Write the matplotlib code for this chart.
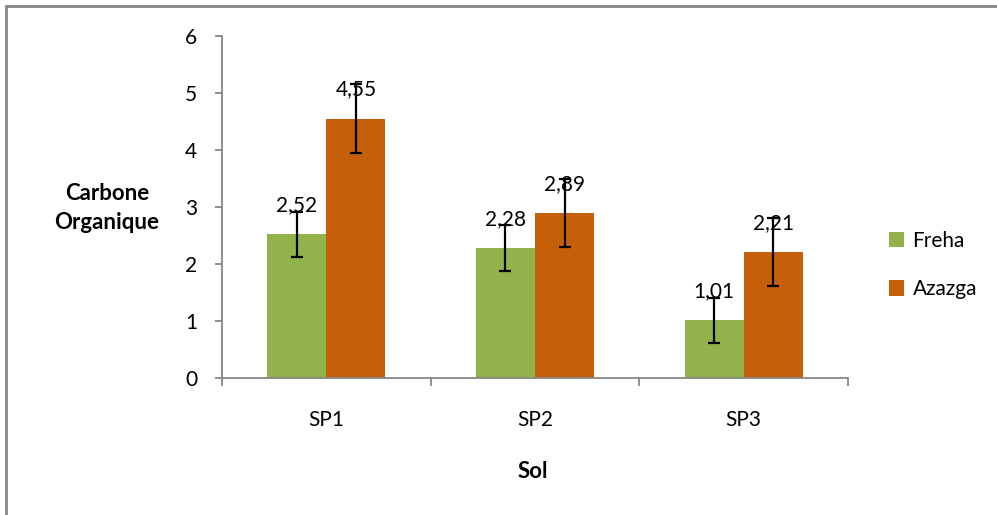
import matplotlib.pyplot as plt
import numpy as np
from matplotlib.patches import Rectangle

# data
categories = ['SP1', 'SP2', 'SP3']
freha = [2.52, 2.28, 1.01]
azazga = [4.55, 2.89, 2.21]
freha_err = [0.4, 0.4, 0.4]
azazga_err = [0.6, 0.6, 0.6]
series_names = ['Freha', 'Azazga']

plt.rcParams['font.family'] = ['Lato', 'DejaVu Sans']
green = '#92B24C'
orange = '#C65F0A'
grey = '#868686'
fs = 15

fig = plt.figure(figsize=(9.97, 5.15), dpi=100)
ax = fig.add_axes([222/997, 1 - 378/515, (848-222)/997, (378-36)/515])

# outer chart frame (runs off the right/bottom edge like the original)
fig.patches.append(Rectangle((6/997, -0.1), 1.1, 1 - 6/515 + 0.1, transform=fig.transFigure,
                             fill=False, edgecolor=grey, linewidth=2))

x = np.arange(len(categories))
w = 0.283
ax.bar(x - w/2, freha, w, color=green, label=series_names[0], zorder=2)
ax.bar(x + w/2, azazga, w, color=orange, label=series_names[1], zorder=2)
ax.errorbar(x - w/2, freha, yerr=freha_err, fmt='none', ecolor='black',
            elinewidth=1.6, capsize=4.5, capthick=1.6, zorder=3)
ax.errorbar(x + w/2, azazga, yerr=azazga_err, fmt='none', ecolor='black',
            elinewidth=1.6, capsize=4.5, capthick=1.6, zorder=3)

for xs, vals in [(x - w/2, freha), (x + w/2, azazga)]:
    for xi, v in zip(xs, vals):
        ax.annotate(f'{v:.2f}'.replace('.', ','), (xi, v), xytext=(0, 21),
                    textcoords='offset points', ha='center', va='center',
                    fontsize=fs, zorder=1)

ax.set_xlim(-0.5, 2.5)
ax.set_ylim(0, 6)
ax.set_yticks(range(0, 7))
ax.set_xticks(x)
ax.set_xticklabels(categories, fontsize=fs)
ax.tick_params(axis='x', length=0, pad=23)
ax.tick_params(axis='y', labelsize=fs, length=5, color=grey, width=1.3, pad=13)
ax.set_xticks([-0.5, 0.5, 1.5, 2.5], minor=True)
ax.tick_params(axis='x', which='minor', length=6, color=grey, width=1.3)

for s in ['top', 'right']:
    ax.spines[s].set_visible(False)
for s in ['left', 'bottom']:
    ax.spines[s].set_color(grey)
    ax.spines[s].set_linewidth(1.3)

fig.text(107/997, 1 - 208/515, 'Carbone\nOrganique', ha='center', va='center',
         fontsize=fs + 1, fontweight='bold', linespacing=1.5)
fig.text(533/997, 1 - 472/515, 'Sol', ha='center', va='center',
         fontsize=fs + 1, fontweight='bold')

ax.legend(loc='center left', bbox_to_anchor=(1.035, 0.33), frameon=False,
          fontsize=fs, handlelength=0.75, handleheight=0.75,
          handletextpad=0.4, labelspacing=1.35)

fig.savefig('out.png', dpi=100)
